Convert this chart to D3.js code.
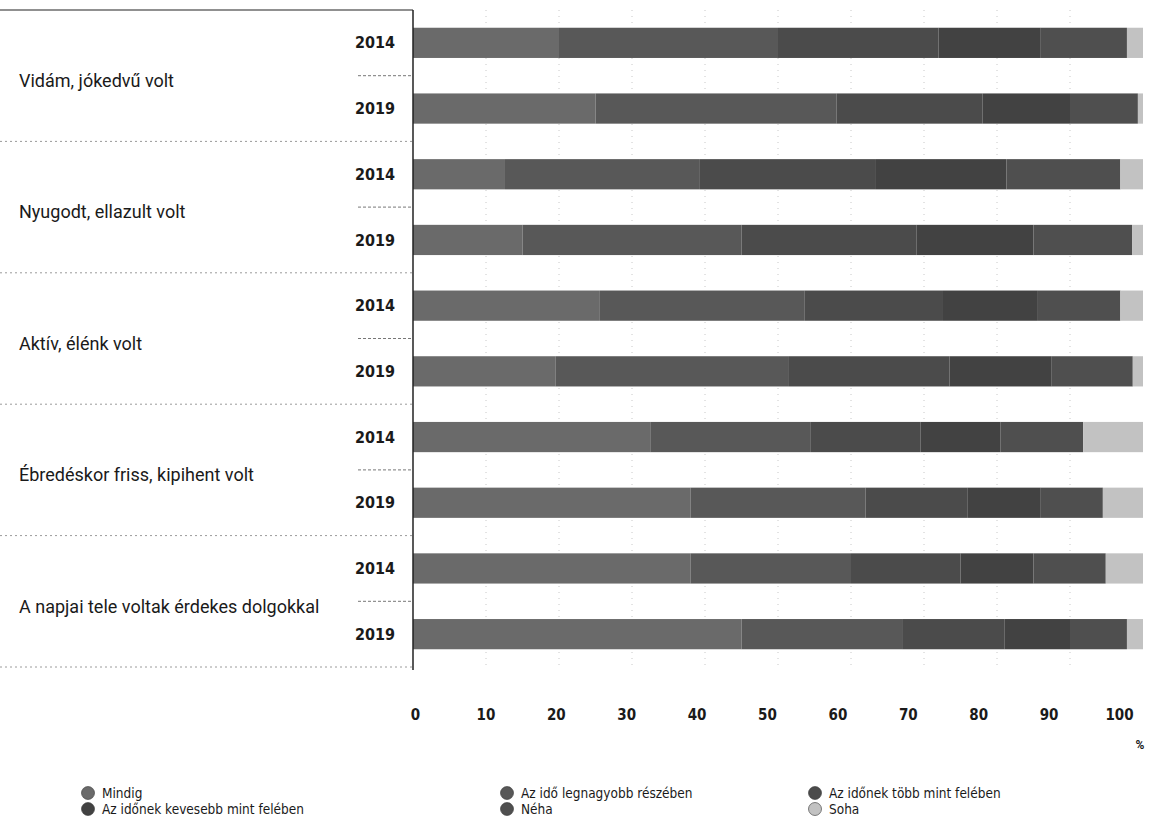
<!DOCTYPE html>
<html>
<head>
<meta charset="utf-8">
<script src="https://cdn.jsdelivr.net/npm/d3@7"></script>
<style>
  html, body { margin: 0; padding: 0; background: #fff; }
  svg text { font-family: "Roboto", "Liberation Sans", sans-serif; fill: #1a1a1a; }
</style>
</head>
<body>
<svg id="chart" width="1169" height="827"></svg>
<script>
// Activity / mood statements, two survey years each
const statements = [
  "Vidám, jókedvű volt",
  "Nyugodt, ellazult volt",
  "Aktív, élénk volt",
  "Ébredéskor friss, kipihent volt",
  "A napjai tele voltak érdekes dolgokkal"
];
const years = ["2014", "2019"];

// Answer categories (stack order, left to right)
const answers = [
  "Mindig",
  "Az idő legnagyobb részében",
  "Az időnek több mint felében",
  "Az időnek kevesebb mint felében",
  "Néha",
  "Soha"
];

// Shares in percent, one array per answer category, rows in statement/year order
const mindig      = [20.0, 25.0, 12.6, 15.0, 25.6, 19.5, 32.5, 38.0, 38.0, 45.0];
const legnagyobb  = [30.0, 33.0, 26.7, 30.0, 28.0, 32.0, 22.0, 24.0, 22.0, 22.0];
const tobbMint    = [22.0, 20.0, 24.0, 24.0, 19.0, 22.0, 15.0, 14.0, 15.0, 14.0];
const kevesebb    = [14.0, 12.0, 18.0, 16.0, 13.0, 14.0, 11.0, 10.0, 10.0,  9.0];
const neha        = [11.8,  9.3, 15.6, 13.5, 11.3, 11.1, 11.3,  8.5,  9.9,  7.8];
const soha        = [ 2.2,  0.7,  3.1,  1.5,  3.1,  1.4,  8.2,  5.5,  5.1,  2.2];

const xTicks = [0, 10, 20, 30, 40, 50, 60, 70, 80, 90, 100];

const seriesValues = [mindig, legnagyobb, tobbMint, kevesebb, neha, soha];
const colors = ["#6a6a6a", "#585858", "#4b4b4b", "#424242", "#4f4f4f", "#c2c2c2"];

const narrow = "'DejaVu Sans Condensed', 'Liberation Sans Narrow', sans-serif";

// Build the row table for the stack layout
const rows = [];
statements.forEach((s, gi) => {
  years.forEach((yr, yi) => {
    const idx = gi * 2 + yi;
    const r = { key: s + "|" + yr, statement: s, year: yr };
    answers.forEach((a, ai) => { r[a] = seriesValues[ai][idx]; });
    rows.push(r);
  });
});

const svg = d3.select("#chart");
const plotLeft = 413, plotRight = 1143, plotTop = 10, plotBottom = 667;

const x = d3.scaleLinear().domain([0, 100]).range([plotLeft, plotRight]);
// Tick labels sit on their own slightly narrower scale
const xLabel = d3.scaleLinear().domain([0, 100]).range([415, 1119]);

const y = d3.scaleBand()
  .domain(rows.map(d => d.key))
  .range([plotTop, plotBottom])
  .paddingInner(0.54)
  .paddingOuter(0.27);

const step = y.step();

// Faint dotted vertical gridlines
svg.append("g")
  .selectAll("line")
  .data(xTicks.filter(t => t > 0 && t < 100))
  .join("line")
  .attr("x1", d => x(d)).attr("x2", d => x(d))
  .attr("y1", plotTop).attr("y2", plotBottom)
  .attr("stroke", "#c8c8c8")
  .attr("stroke-width", 1)
  .attr("stroke-dasharray", "1,5");

// Stacked bars
const stack = d3.stack().keys(answers);
const stacked = stack(rows);

svg.append("g")
  .selectAll("g")
  .data(stacked)
  .join("g")
  .attr("fill", (d, i) => colors[i])
  .selectAll("rect")
  .data(d => d)
  .join("rect")
  .attr("x", d => x(d[0]))
  .attr("width", d => x(d[1]) - x(d[0]))
  .attr("y", d => y(d.data.key))
  .attr("height", y.bandwidth());

// Top rule above the label column
svg.append("line")
  .attr("x1", 0).attr("x2", plotLeft)
  .attr("y1", plotTop).attr("y2", plotTop)
  .attr("stroke", "#222").attr("stroke-width", 1.2);

// Dotted separators between statement groups
const groupEdges = statements.map((s, i) => plotTop + step * 2 * (i + 1));
svg.append("g")
  .selectAll("line")
  .data(groupEdges)
  .join("line")
  .attr("x1", 0).attr("x2", plotLeft)
  .attr("y1", d => d).attr("y2", d => d)
  .attr("stroke", "#9a9a9a")
  .attr("stroke-width", 1)
  .attr("stroke-dasharray", "2,3");

// Short dashes between the two years of a group
const midEdges = statements.map((s, i) => plotTop + step * (2 * i + 1));
svg.append("g")
  .selectAll("line")
  .data(midEdges)
  .join("line")
  .attr("x1", 358).attr("x2", plotLeft)
  .attr("y1", d => d).attr("y2", d => d)
  .attr("stroke", "#777")
  .attr("stroke-width", 1)
  .attr("stroke-dasharray", "3,2");

// Vertical category axis line
svg.append("line")
  .attr("x1", plotLeft).attr("x2", plotLeft)
  .attr("y1", plotTop).attr("y2", plotBottom + 3)
  .attr("stroke", "#222").attr("stroke-width", 1.5);

// Year labels
svg.append("g")
  .selectAll("text")
  .data(rows)
  .join("text")
  .attr("x", 395)
  .attr("y", d => y(d.key) + y.bandwidth() / 2)
  .attr("dy", "0.35em")
  .attr("text-anchor", "end")
  .style("font-family", narrow)
  .style("font-size", "16px")
  .style("font-weight", "bold")
  .text(d => d.year);

// Statement labels
svg.append("g")
  .selectAll("text")
  .data(statements)
  .join("text")
  .attr("x", 19)
  .attr("y", (d, i) => midEdges[i] + 5)
  .attr("dy", "0.35em")
  .style("font-size", "18px")
  .text(d => d);

// Value axis labels
const xAxis = d3.axisBottom(xLabel).tickValues(xTicks).tickSize(0).tickPadding(0);
const gx = svg.append("g")
  .attr("transform", "translate(0,709)")
  .call(xAxis);
gx.select(".domain").remove();
gx.selectAll("text")
  .style("font-family", narrow)
  .style("font-size", "15px")
  .style("font-weight", "bold")
  .attr("fill", "#1a1a1a");

svg.append("text")
  .attr("x", 1140).attr("y", 749)
  .attr("text-anchor", "middle")
  .style("font-size", "12px")
  .style("font-weight", "bold")
  .text("%");

// Legend, three columns by two rows
const legendCols = [88, 507, 815];
const legendRows = [793, 809];
const legendOrder = [0, 3, 1, 4, 2, 5];
const legend = svg.append("g")
  .selectAll("g")
  .data(legendOrder)
  .join("g")
  .attr("transform", (ai, k) => `translate(${legendCols[Math.floor(k / 2)]},${legendRows[k % 2]})`);

legend.append("circle")
  .attr("r", 6.5)
  .attr("fill", ai => colors[ai])
  .attr("stroke", "#333")
  .attr("stroke-width", 0.6);

legend.append("text")
  .attr("x", 14)
  .attr("dy", "0.35em")
  .style("font-family", narrow)
  .style("font-size", "13.5px")
  .text(ai => answers[ai]);
</script>
</body>
</html>
